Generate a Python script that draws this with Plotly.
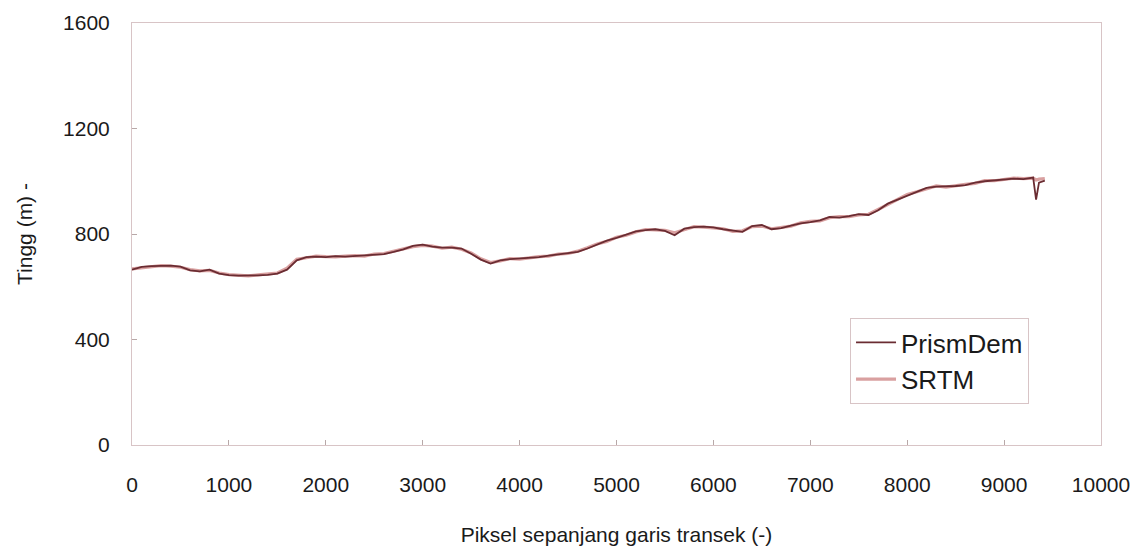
import plotly.graph_objects as go

# Pixel position along transect
piksel = [0, 100, 200, 300, 400, 500, 600, 700, 800, 900,
          1000, 1100, 1200, 1300, 1400, 1500, 1600, 1700, 1800, 1900,
          2000, 2100, 2200, 2300, 2400, 2500, 2600, 2700, 2800, 2900,
          3000, 3100, 3200, 3300, 3400, 3500, 3600, 3700, 3800, 3900,
          4000, 4100, 4200, 4300, 4400, 4500, 4600, 4700, 4800, 4900,
          5000, 5100, 5200, 5300, 5400, 5500, 5600, 5700, 5800, 5900,
          6000, 6100, 6200, 6300, 6400, 6500, 6600, 6700, 6800, 6900,
          7000, 7100, 7200, 7300, 7400, 7500, 7600, 7700, 7800, 7900,
          8000, 8100, 8200, 8300, 8400, 8500, 8600, 8700, 8800, 8900,
          9000, 9100, 9200, 9300, 9330, 9360, 9420]

prismdem = [665, 675, 678, 678, 680, 676, 662, 658, 665, 650,
            644, 642, 642, 643, 645, 650, 665, 700, 712, 714,
            712, 716, 714, 716, 718, 722, 724, 732, 742, 755,
            760, 752, 748, 748, 745, 725, 703, 688, 700, 705,
            707, 708, 712, 718, 722, 728, 732, 745, 760, 775,
            785, 798, 810, 815, 818, 812, 795, 820, 826, 828,
            825, 818, 812, 808, 830, 834, 818, 822, 832, 840,
            845, 852, 865, 862, 868, 875, 872, 890, 915, 930,
            948, 962, 975, 980, 980, 982, 985, 995, 1000, 1004,
            1008, 1010, 1008, 1014, 930, 995, 1002]

srtm = [668, 673, 676, 680, 678, 674, 665, 660, 662, 652,
        646, 644, 641, 645, 647, 652, 670, 704, 710, 716,
        714, 713, 716, 718, 716, 724, 726, 735, 745, 752,
        757, 754, 746, 750, 742, 728, 706, 692, 698, 707,
        705, 710, 714, 716, 724, 726, 735, 748, 762, 772,
        788, 795, 808, 817, 815, 814, 805, 818, 828, 826,
        822, 820, 810, 812, 828, 830, 820, 825, 830, 842,
        848, 850, 862, 866, 866, 872, 875, 893, 912, 933,
        950, 960, 972, 982, 978, 984, 988, 992, 1002, 1002,
        1006, 1012, 1010, 1012, 1005, 1008, 1010]

x_ticks = [0, 1000, 2000, 3000, 4000, 5000, 6000, 7000, 8000, 9000, 10000]
y_ticks = [0, 400, 800, 1200, 1600]

axis_col = "#d8c4c6"
font_fam = "Liberation Sans, Arial, sans-serif"

fig = go.Figure()
fig.add_trace(go.Scatter(x=piksel, y=srtm, name="SRTM", mode="lines",
                         line=dict(color="#d9a0a0", width=3.2), legendrank=2))
fig.add_trace(go.Scatter(x=piksel, y=prismdem, name="PrismDem", mode="lines",
                         line=dict(color="#6a2c32", width=1.8), legendrank=1))

fig.update_layout(
    width=1139, height=554,
    margin=dict(l=124, r=46, t=15, b=117),
    paper_bgcolor="white", plot_bgcolor="white",
    font=dict(family=font_fam, size=21, color="#1a1a1a"),
    showlegend=True,
    legend=dict(x=0.741, y=0.301, xanchor="left", yanchor="top",
                bordercolor=axis_col, borderwidth=1, bgcolor="white",
                font=dict(size=26), itemwidth=40, tracegroupgap=2,
                entrywidth=167, entrywidthmode="pixels"),
    xaxis=dict(range=[0, 10000], tickvals=x_ticks, ticktext=[str(v) for v in x_ticks],
               showgrid=False, zeroline=False, showline=True, linecolor=axis_col,
               linewidth=1, mirror=True, ticks="inside", ticklen=5, tickcolor="#b8a8a8",
               ticklabelstandoff=21, automargin=False,
               title=dict(text="Piksel sepanjang garis transek (-)", standoff=32,
                          font=dict(size=21))),
    yaxis=dict(range=[0, 1600], tickvals=y_ticks, ticktext=[str(v) for v in y_ticks],
               showgrid=False, zeroline=False, showline=True, linecolor=axis_col,
               linewidth=1, mirror=True, ticks="inside", ticklen=5, tickcolor="#b8a8a8",
               ticklabelstandoff=17, automargin=False,
               title=dict(text="Tingg (m) -", standoff=24, font=dict(size=21))),
)

fig.write_html("out.html")
